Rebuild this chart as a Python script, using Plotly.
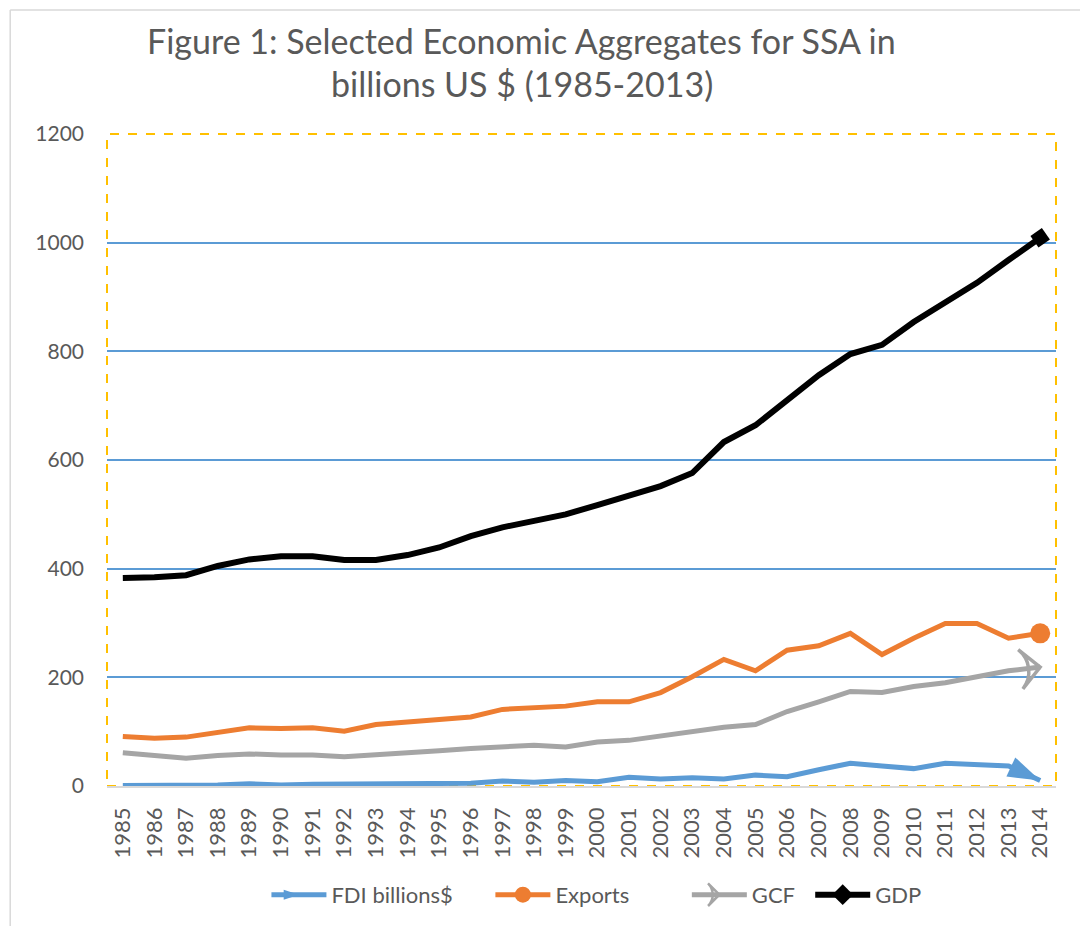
import plotly.graph_objects as go

years = [str(y) for y in range(1985, 2015)]
fdi = [1, 1, 2, 2, 4, 2, 3, 3, 3, 5, 5, 5, 9, 7, 10, 8, 16, 13, 15, 13, 20, 17, 30, 42, 37, 32, 42, 39, 37, 10]
exports = [91, 88, 90, 98, 107, 106, 107, 101, 113, 118, 123, 127, 141, 144, 147, 155, 155, 172, 201, 233,
           212, 250, 258, 281, 242, 272, 299, 299, 272, 281]
gcf = [61, 56, 51, 56, 59, 57, 57, 54, 57, 61, 65, 69, 72, 75, 72, 81, 84, 92, 102, 108,
       113, 137, 155, 174, 172, 183, 190, 202, 212, 219]
gdp = [383, 384, 388, 405, 417, 423, 423, 416, 416, 425, 439, 460, 476, 488, 500, 517, 534, 552, 576, 633,
       664, 710, 756, 795, 812, 854, 891, 926, 968, 1009]
y_ticks = [0, 200, 400, 600, 800, 1000, 1200]
title_lines = ["Figure 1: Selected Economic Aggregates for SSA in", "billions US $ (1985-2013)"]

series = [
    ("FDI billions$", fdi, "#5B9BD5", "arrow", 34, 5),
    ("Exports", exports, "#ED7D31", "circle", 20, 5),
    ("GCF", gcf, "#A5A5A5", "arrow-wide-open", 28, 5),
    ("GDP", gdp, "#000000", "square", 14, 6),
]
legend_x = [0.168, 0.404, 0.611, 0.741]

FONT = "Lato"
GRAY = "#595959"

fig = go.Figure()
n = len(years)
for name, vals, color, sym, msize, lw in series:
    sizes = [0] * (n - 1) + [msize]
    marker = dict(symbol=sym, size=sizes, color=color, angleref="previous", opacity=1,
                  line=dict(width=3.5 if "open" in sym else 0, color=color))
    fig.add_trace(go.Scatter(x=years, y=vals, mode="lines+markers", name=name,
                             line=dict(color=color, width=lw), marker=marker,
                             showlegend=False, hoverinfo="skip"))

legend_syms = {"arrow": ("arrow", 90), "circle": ("circle", 0),
               "arrow-wide-open": ("arrow-wide-open", 90), "square": ("diamond", 0)}
legend_layouts = {}
for i, (name, vals, color, sym, msize, lw) in enumerate(series):
    ls, ang = legend_syms[sym]
    lg = "legend" if i == 0 else f"legend{i + 1}"
    fig.add_trace(go.Scatter(x=[None], y=[None], mode="lines+markers", name=name, legend=lg,
                             line=dict(color=color, width=lw),
                             marker=dict(symbol=ls, angle=ang, size=16, color=color, opacity=1,
                                         line=dict(width=2.5 if "open" in ls else 0, color=color))))
    legend_layouts[lg] = dict(orientation="h", x=legend_x[i], xanchor="left", y=-0.167, yanchor="middle",
                              font=dict(family=FONT, size=22, color=GRAY), itemwidth=55,
                              bgcolor="rgba(0,0,0,0)")

fig.update_xaxes(type="category", range=[-0.5, n - 0.5], tickangle=-90, showgrid=False, showline=True,
                 linecolor="#D9D9D9", linewidth=1.5, ticks="",
                 tickfont=dict(family=FONT, size=22, color=GRAY), ticklabelstandoff=11)
fig.update_yaxes(range=[0, 1200], tickvals=y_ticks, showgrid=True, gridcolor="#5B9BD5",
                 gridwidth=1.5, zeroline=False, showline=False, ticks="",
                 tickfont=dict(family=FONT, size=21, color=GRAY), ticklabelstandoff=22)

shapes = [
    dict(type="rect", xref="paper", yref="paper", x0=0, x1=1, y0=0, y1=1,
         line=dict(color="#FFC000", width=2, dash="dash"), layer="between"),
    dict(type="line", xref="paper", yref="paper", x0=-0.102, x1=1.05, y0=1.19, y1=1.19,
         line=dict(color="#D9D9D9", width=1.5)),
    dict(type="line", xref="paper", yref="paper", x0=-0.102, x1=-0.102, y0=1.19, y1=-0.25,
         line=dict(color="#D9D9D9", width=1.5)),
]

annotations = [
    dict(text=title_lines[0], xref="paper", yref="paper", x=0.437, y=1.144, xanchor="center",
         yanchor="middle", showarrow=False, font=dict(family=FONT, size=34, color=GRAY)),
    dict(text=title_lines[1], xref="paper", yref="paper", x=0.437, y=1.078, xanchor="center",
         yanchor="middle", showarrow=False, font=dict(family=FONT, size=34, color=GRAY)),
]

fig.update_layout(
    width=1080, height=918,
    margin=dict(l=99, r=32, t=126, b=140, autoexpand=False),
    paper_bgcolor="white", plot_bgcolor="white",
    shapes=shapes,
    annotations=annotations,
    **legend_layouts,
)

fig.write_html("out.html")
